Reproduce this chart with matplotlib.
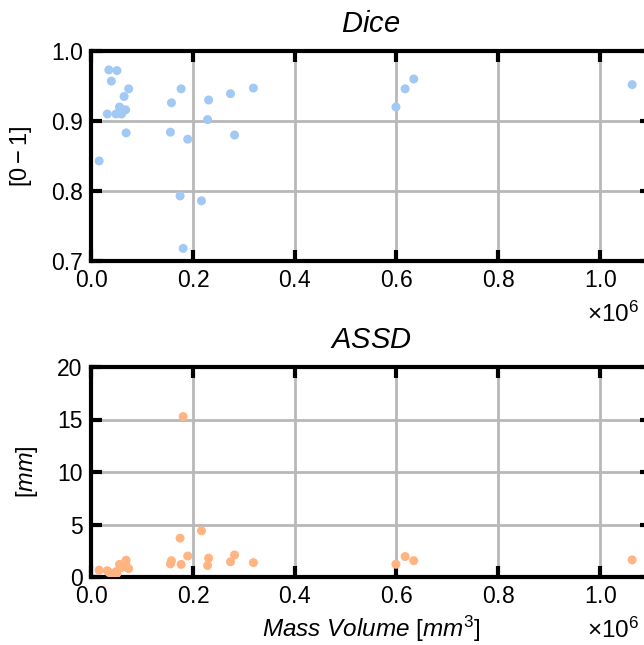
import matplotlib
matplotlib.use("Agg")
import matplotlib.pyplot as plt
from matplotlib.ticker import ScalarFormatter, FormatStrFormatter

plt.rcParams['font.family'] = ['Liberation Sans', 'DejaVu Sans']
plt.rcParams['mathtext.fontset'] = 'custom'
plt.rcParams['mathtext.rm'] = 'Liberation Sans'
plt.rcParams['mathtext.it'] = 'Liberation Sans:italic'
plt.rcParams['mathtext.bf'] = 'Liberation Sans:bold'

mass_volume = [0.016e6, 0.032e6, 0.035e6, 0.051e6, 0.040e6, 0.049e6, 0.056e6,
               0.060e6, 0.061e6, 0.068e6, 0.065e6, 0.074e6, 0.069e6,
               0.158e6, 0.156e6, 0.177e6, 0.175e6, 0.181e6, 0.190e6, 0.217e6,
               0.229e6, 0.231e6, 0.274e6, 0.282e6, 0.319e6,
               0.599e6, 0.617e6, 0.634e6, 1.063e6]
dice = [0.843, 0.910, 0.973, 0.972, 0.957, 0.910, 0.920,
        0.910, 0.916, 0.916, 0.935, 0.946, 0.883,
        0.926, 0.884, 0.946, 0.793, 0.718, 0.874, 0.786,
        0.902, 0.930, 0.939, 0.880, 0.947,
        0.920, 0.946, 0.960, 0.952]
assd = [0.65, 0.60, 0.45, 0.35, 0.30, 0.50, 1.20,
        0.90, 1.00, 1.25, 1.10, 0.80, 1.60,
        1.55, 1.25, 1.20, 3.70, 15.28, 2.00, 4.40,
        1.10, 1.80, 1.45, 2.10, 1.37,
        1.21, 1.95, 1.56, 1.63]

dice_yticks = [0.7, 0.8, 0.9, 1.0]
assd_yticks = [0, 5, 10, 15, 20]
x_ticks = [0.0, 0.2e6, 0.4e6, 0.6e6, 0.8e6, 1.0e6]

W, H = 644, 645
fig = plt.figure(figsize=(W / 100, H / 100), dpi=100)

left = 91 / W
width = (651 - 91) / W
h = 210 / H
ax1 = fig.add_axes([left, 1 - 261 / H, width, h])
ax2 = fig.add_axes([left, 1 - 577 / H, width, h])

blue = '#a1c9f4'
orange = '#ffb482'

for ax, yv, col, yt, title, ylabel in [
        (ax1, dice, blue, dice_yticks, r'$Dice$', r'$[0-1]$'),
        (ax2, assd, orange, assd_yticks, r'$ASSD$', r'$[mm]$')]:
    ax.scatter(mass_volume, yv, s=42, color=col, edgecolors='none', zorder=3)
    ax.set_xlim(0, 1.1e6)
    ax.set_ylim(yt[0], yt[-1])
    ax.set_yticks(yt)
    ax.set_xticks(x_ticks)
    fmt = ScalarFormatter(useMathText=True)
    fmt.set_powerlimits((0, 0))
    ax.xaxis.set_major_formatter(fmt)
    if ax is ax1:
        ax.yaxis.set_major_formatter(FormatStrFormatter('%.1f'))
    ax.grid(True, color='#b8b8b8', linewidth=2.0, zorder=0)
    ax.set_axisbelow(True)
    for sp in ax.spines.values():
        sp.set_linewidth(3)
    ax.tick_params(direction='in', length=8, width=3, top=True, right=True,
                   labelsize=16.5, pad=6)
    off = ax.xaxis.get_offset_text()
    off.set_fontsize(17.5)
    ax.set_title(title, fontsize=21, pad=14)
    ax.set_ylabel(ylabel, fontsize=17, labelpad=12)

ax2.set_xlabel(r'$Mass\ Volume\ [mm^3]$', fontsize=17.5)

# keep offset texts inside the picture
fig.canvas.draw()
for ax in (ax1, ax2):
    off = ax.xaxis.get_offset_text()
    off.set_transform(matplotlib.transforms.offset_copy(
        off.get_transform(), fig=fig, x=-12, y=-5, units='dots'))

fig.savefig('out.png', dpi=100)
